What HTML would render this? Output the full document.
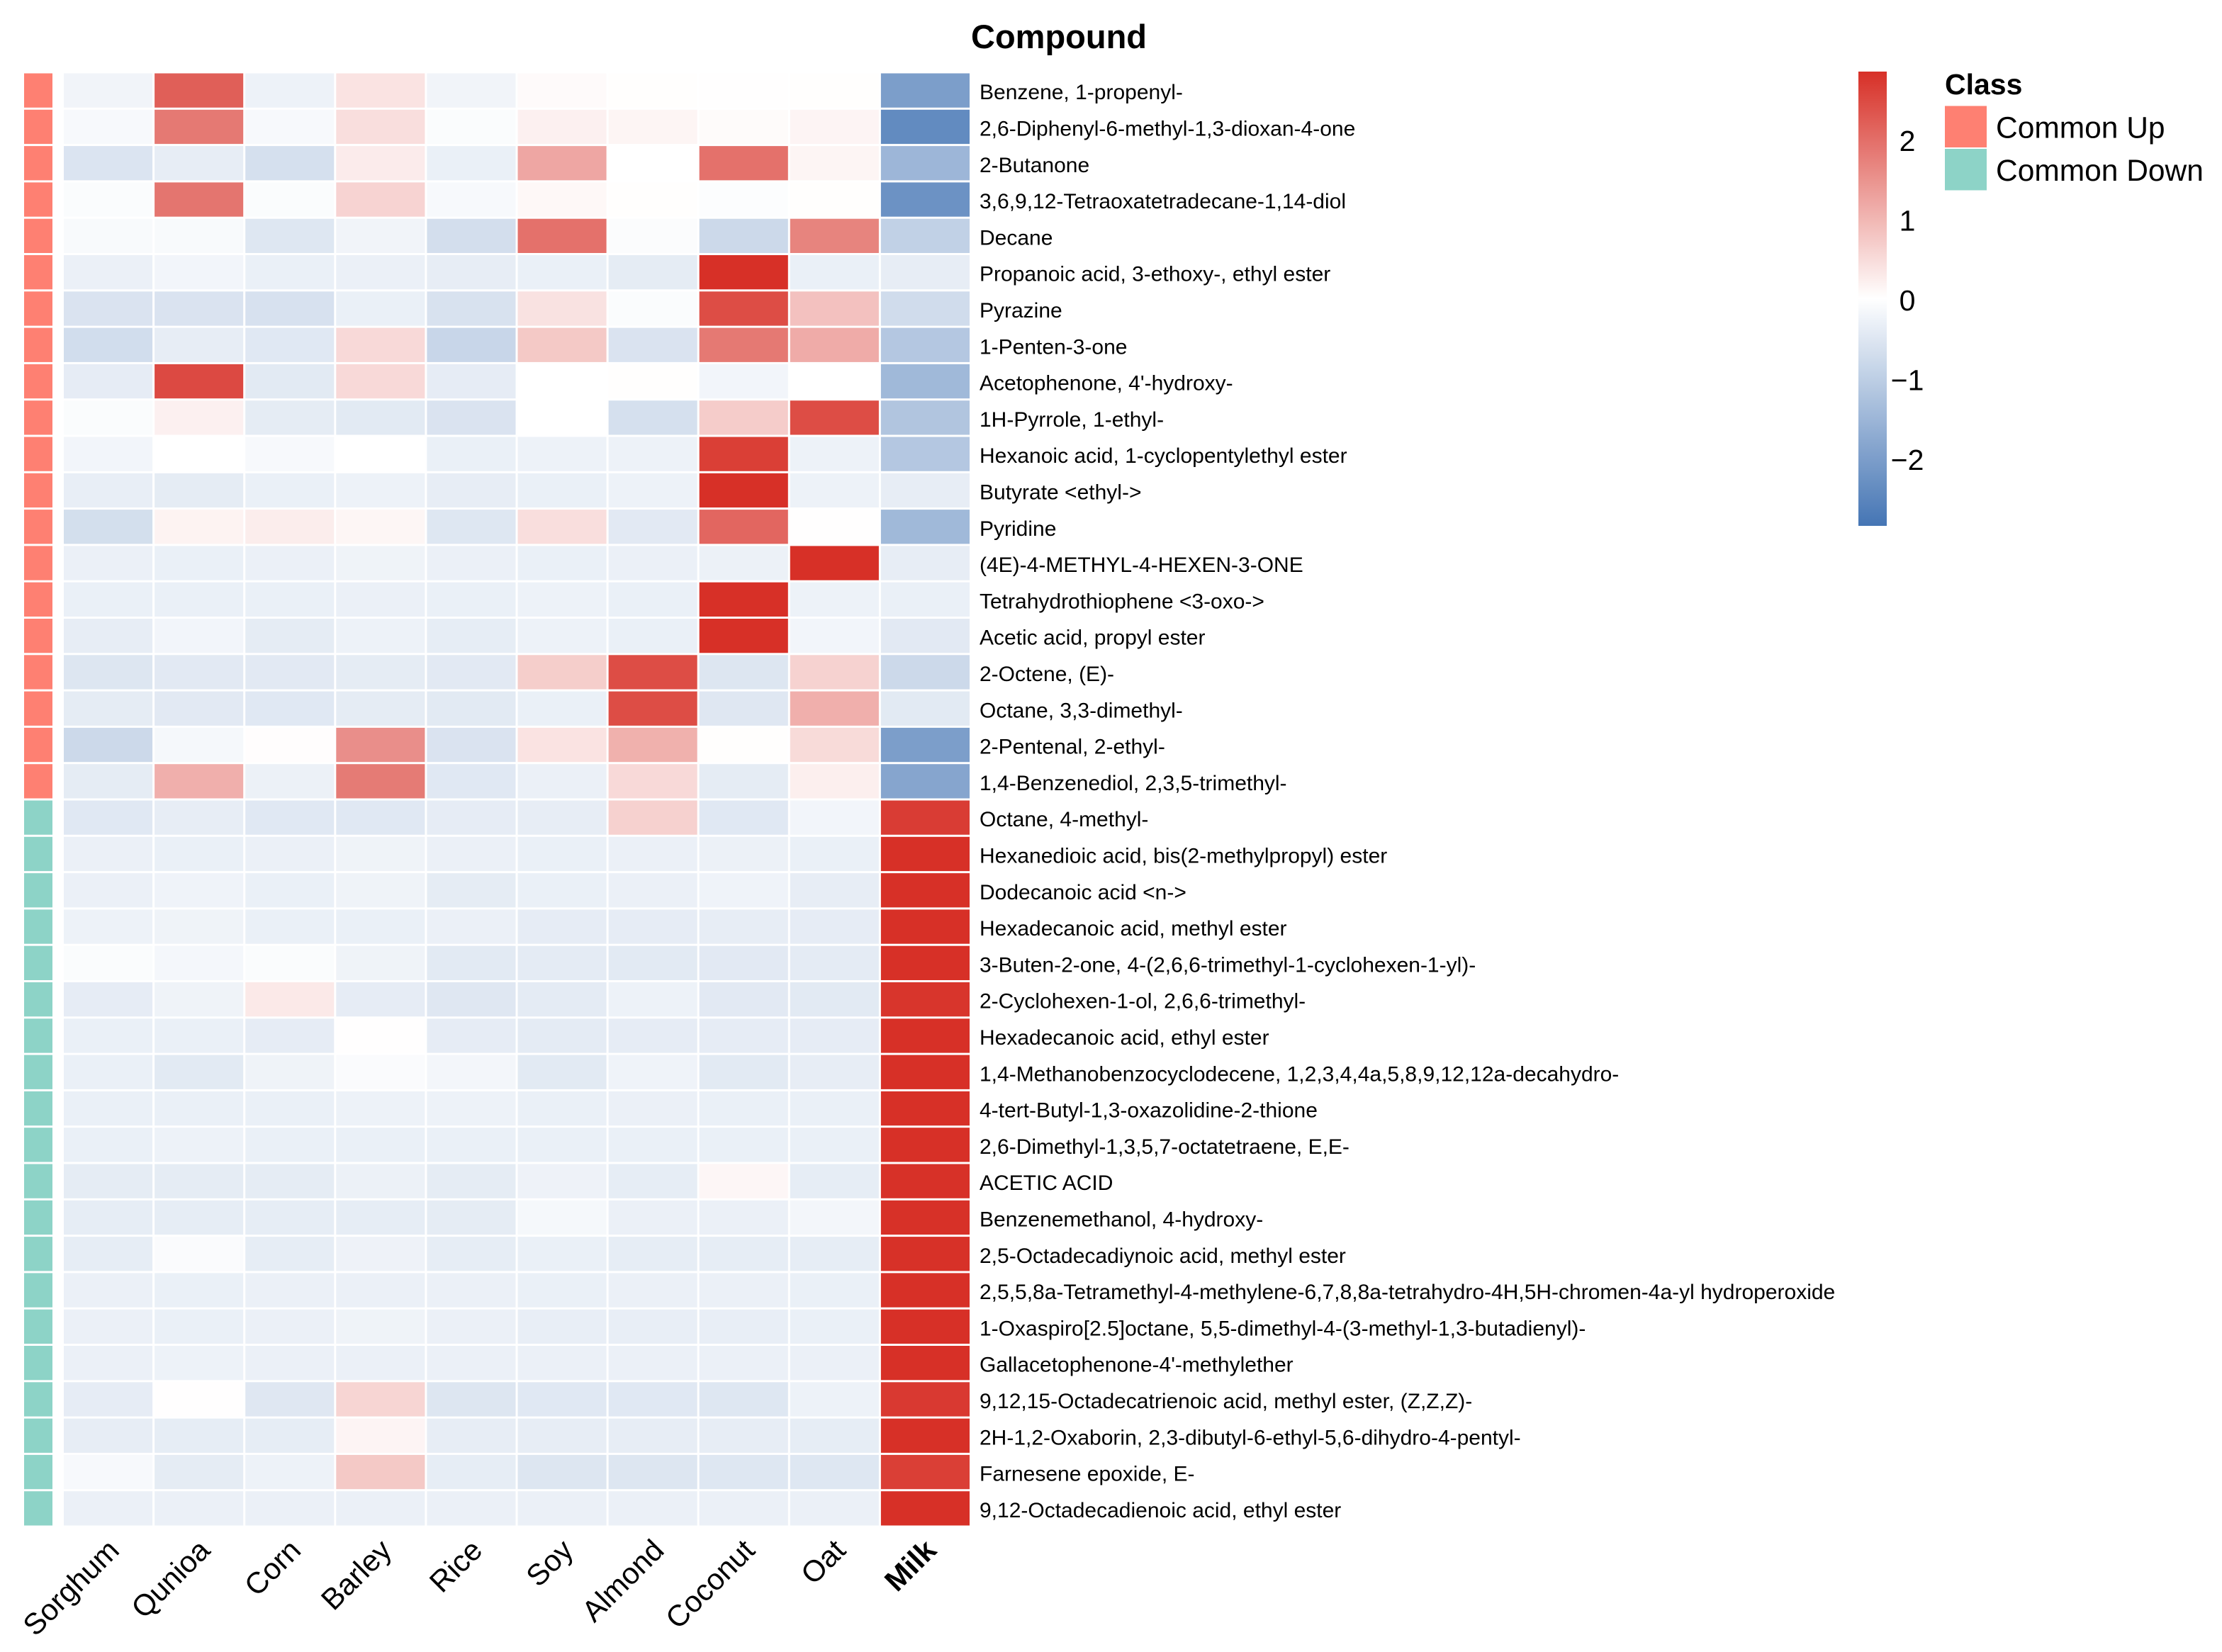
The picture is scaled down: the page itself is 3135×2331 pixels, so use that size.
<!DOCTYPE html>
<html>
<head>
<meta charset="utf-8">
<title>Compound heatmap</title>
<style>
html,body{margin:0;padding:0;background:#fff;}
svg{display:block;}
text{font-family:"Liberation Sans",Arial,sans-serif;fill:#000;}
</style>
</head>
<body>
<svg id="chart" xmlns="http://www.w3.org/2000/svg" width="3135" height="2331" viewBox="0 0 3135 2331">
<rect x="0" y="0" width="3135" height="2331" fill="#ffffff"/>
<defs><linearGradient id="cbGrad" x1="0" y1="0" x2="0" y2="1"></linearGradient></defs>
<g id="annotation"></g>
<g id="cells"></g>
<g id="rowLabels"></g>
<g id="colLabels"></g>
<text x="1494" y="68" font-size="47" font-weight="700" text-anchor="middle">Compound</text>
<g id="colorbar"></g>
<g id="legend"></g>
</svg>
<script>
const matrices = ["Sorghum","Qunioa","Corn","Barley","Rice","Soy","Almond","Coconut","Oat","Milk"];
const boldMatrices = ["Milk"];
const compounds = [
"Benzene, 1-propenyl-",
"2,6-Diphenyl-6-methyl-1,3-dioxan-4-one",
"2-Butanone",
"3,6,9,12-Tetraoxatetradecane-1,14-diol",
"Decane",
"Propanoic acid, 3-ethoxy-, ethyl ester",
"Pyrazine",
"1-Penten-3-one",
"Acetophenone, 4'-hydroxy-",
"1H-Pyrrole, 1-ethyl-",
"Hexanoic acid, 1-cyclopentylethyl ester",
"Butyrate <ethyl->",
"Pyridine",
"(4E)-4-METHYL-4-HEXEN-3-ONE",
"Tetrahydrothiophene <3-oxo->",
"Acetic acid, propyl ester",
"2-Octene, (E)-",
"Octane, 3,3-dimethyl-",
"2-Pentenal, 2-ethyl-",
"1,4-Benzenediol, 2,3,5-trimethyl-",
"Octane, 4-methyl-",
"Hexanedioic acid, bis(2-methylpropyl) ester",
"Dodecanoic acid <n->",
"Hexadecanoic acid, methyl ester",
"3-Buten-2-one, 4-(2,6,6-trimethyl-1-cyclohexen-1-yl)-",
"2-Cyclohexen-1-ol, 2,6,6-trimethyl-",
"Hexadecanoic acid, ethyl ester",
"1,4-Methanobenzocyclodecene, 1,2,3,4,4a,5,8,9,12,12a-decahydro-",
"4-tert-Butyl-1,3-oxazolidine-2-thione",
"2,6-Dimethyl-1,3,5,7-octatetraene, E,E-",
"ACETIC ACID",
"Benzenemethanol, 4-hydroxy-",
"2,5-Octadecadiynoic acid, methyl ester",
"2,5,5,8a-Tetramethyl-4-methylene-6,7,8,8a-tetrahydro-4H,5H-chromen-4a-yl hydroperoxide",
"1-Oxaspiro[2.5]octane, 5,5-dimethyl-4-(3-methyl-1,3-butadienyl)-",
"Gallacetophenone-4'-methylether",
"9,12,15-Octadecatrienoic acid, methyl ester, (Z,Z,Z)-",
"2H-1,2-Oxaborin, 2,3-dibutyl-6-ethyl-5,6-dihydro-4-pentyl-",
"Farnesene epoxide, E-",
"9,12-Octadecadienoic acid, ethyl ester"
];
const classNames = ["Common Up","Common Down"];
const classColors = ["#FE8072","#8DD3C7"];
const rowClass = [0,0,0,0,0,0,0,0,0,0,0,0,0,0,0,0,0,0,0,0,1,1,1,1,1,1,1,1,1,1,1,1,1,1,1,1,1,1,1,1];
const values = [
[-.22,2.2,-.27,.38,-.22,.07,.02,.01,.02,-2.0],
[-.13,1.85,-.13,.45,-.07,.2,.14,.06,.15,-2.4],
[-.55,-.37,-.65,.27,-.32,1.22,0,1.95,.14,-1.5],
[-.07,1.9,-.07,.6,-.12,.1,.02,-.04,.02,-2.25],
[-.1,-.1,-.5,-.22,-.68,1.95,-.06,-.78,1.7,-.95],
[-.3,-.2,-.32,-.3,-.37,-.32,-.4,2.86,-.32,-.37],
[-.57,-.57,-.62,-.32,-.6,.4,-.07,2.45,.85,-.72],
[-.7,-.37,-.47,.52,-.85,.75,-.57,1.85,1.15,-1.15],
[-.39,2.5,-.44,.52,-.39,0,.02,-.2,0,-1.45],
[-.07,.2,-.4,-.44,-.57,0,-.64,.7,2.45,-1.2],
[-.2,0,-.13,0,-.32,-.27,-.27,2.65,-.27,-1.15],
[-.35,-.4,-.32,-.27,-.37,-.32,-.27,2.86,-.27,-.37],
[-.67,.17,.25,.13,-.5,.45,-.45,2.1,.01,-1.45],
[-.3,-.32,-.3,-.25,-.3,-.32,-.3,-.29,2.85,-.37],
[-.32,-.32,-.32,-.3,-.32,-.27,-.32,2.86,-.27,-.32],
[-.37,-.2,-.4,-.27,-.38,-.27,-.32,2.86,-.2,-.45],
[-.52,-.45,-.45,-.4,-.45,.68,2.45,-.52,.62,-.78],
[-.4,-.45,-.47,-.4,-.44,-.32,2.45,-.49,1.1,-.44],
[-.78,-.15,.03,1.55,-.57,.38,1.08,.02,.5,-2.0],
[-.4,1.1,-.29,1.82,-.47,-.3,.52,-.4,.22,-1.85],
[-.47,-.37,-.47,-.47,-.39,-.37,.63,-.47,-.2,2.68],
[-.3,-.32,-.3,-.25,-.3,-.32,-.3,-.29,-.32,2.86],
[-.3,-.24,-.32,-.25,-.4,-.32,-.3,-.24,-.37,2.86],
[-.27,-.25,-.32,-.32,-.3,-.39,-.39,-.37,-.39,2.86],
[-.07,-.17,-.07,-.25,-.44,-.42,-.44,-.45,-.42,2.86],
[-.39,-.25,.3,-.39,-.49,-.42,-.27,-.45,-.44,2.78],
[-.32,-.32,-.39,.01,-.39,-.42,-.39,-.39,-.39,2.86],
[-.32,-.44,-.25,-.08,-.18,-.44,-.24,-.44,-.37,2.86],
[-.32,-.32,-.32,-.27,-.27,-.32,-.3,-.32,-.32,2.86],
[-.32,-.27,-.32,-.32,-.32,-.32,-.32,-.32,-.32,2.86],
[-.4,-.4,-.4,-.29,-.4,-.26,-.38,.12,-.38,2.84],
[-.38,-.38,-.38,-.38,-.4,-.15,-.3,-.3,-.18,2.84],
[-.38,-.08,-.38,-.26,-.38,-.32,-.38,-.38,-.38,2.84],
[-.3,-.32,-.3,-.3,-.3,-.32,-.3,-.3,-.32,2.86],
[-.3,-.32,-.3,-.25,-.3,-.36,-.36,-.36,-.32,2.86],
[-.3,-.27,-.3,-.3,-.3,-.3,-.3,-.3,-.3,2.86],
[-.39,.01,-.49,.58,-.52,-.47,-.47,-.5,-.27,2.72],
[-.37,-.38,-.38,.15,-.37,-.37,-.37,-.37,-.38,2.86],
[-.13,-.4,-.27,.75,-.38,-.52,-.52,-.5,-.5,2.65],
[-.3,-.3,-.3,-.3,-.3,-.3,-.3,-.3,-.3,2.86]
];
const colorTicks = [2,1,0,-1,-2];
const colorDomain = [-2.85,2.85];

const NS = "http://www.w3.org/2000/svg";
const plotLeft = 90, plotRight = 1371, plotTop = 103.5, plotBottom = 2155.5, cellGap = 3;
const cbX = 2622, cbW = 40, cbTop = 101, cbBottom = 742;

function xPos(i){ return plotLeft + i * (plotRight - plotLeft) / matrices.length; }
function yPos(i){ return plotTop + i * (plotBottom - plotTop) / compounds.length; }
function cbY(v){ return cbTop + (colorDomain[1] - v) / (colorDomain[1] - colorDomain[0]) * (cbBottom - cbTop); }
function mix(a, b, t){ return Math.round(a + (b - a) * t); }
function colorOf(v){
  const hi = [215,48,39], lo = [69,117,180];
  const t = Math.min(1, Math.abs(v) / colorDomain[1]);
  const c = v >= 0 ? hi : lo;
  return "rgb(" + mix(255,c[0],t) + "," + mix(255,c[1],t) + "," + mix(255,c[2],t) + ")";
}
function make(tag, parent, attrs, txt){
  const el = document.createElementNS(NS, tag);
  for (const k in attrs) el.setAttribute(k, attrs[k]);
  if (txt !== undefined) el.textContent = txt;
  parent.appendChild(el);
  return el;
}

const cellsG = document.getElementById("cells");
const annG = document.getElementById("annotation");
const rowG = document.getElementById("rowLabels");
const colG = document.getElementById("colLabels");
const cbG = document.getElementById("colorbar");
const legG = document.getElementById("legend");
const cellW = (plotRight - plotLeft) / matrices.length - cellGap;
const cellH = (plotBottom - plotTop) / compounds.length - cellGap;

compounds.forEach(function(name, r){
  const a = make("rect", annG, {x:34, y:yPos(r), width:40, height:cellH, fill:classColors[rowClass[r]]});
  
  
  matrices.forEach(function(m, c){
    const cell = make("rect", cellsG, {x:xPos(c), y:yPos(r), width:cellW, height:cellH, fill:colorOf(values[r][c])});
    
    
  });
  const t = make("text", rowG, {x:1382, y:yPos(r) + cellH / 2 + 12.5, "font-size":30}, name);
  
  
});

matrices.forEach(function(m, c){
  const px = xPos(c) + cellW / 2 + 18, py = 2190;
  const attrs = {x:px, y:py, "font-size":42, "text-anchor":"end", transform:"rotate(-45 " + px + " " + py + ")"};
  if (boldMatrices.indexOf(m) >= 0) attrs["font-weight"] = "700";
  const t = make("text", colG, attrs, m);
  
  
});

const grad = document.getElementById("cbGrad");
for (let s = 0; s <= 40; s++) {
  const v = colorDomain[1] - s / 40 * (colorDomain[1] - colorDomain[0]);
  make("stop", grad, {offset:(s / 40), "stop-color":colorOf(v)});
}
const bar = make("rect", cbG, {x:cbX, y:cbTop, width:cbW, height:cbBottom - cbTop, fill:"url(#cbGrad)"});


colorTicks.forEach(function(v){
  const label = (v < 0 ? "\u2212" + Math.abs(v) : String(v));
  const t = make("text", cbG, {x:2691, y:cbY(v) + 16.5, "font-size":41, "text-anchor":"middle"}, label);
  
  
});

const legTitle = make("text", legG, {x:2744, y:133, "font-size":41, "font-weight":700}, "Class");


classNames.forEach(function(name, i){
  const y0 = 149.5 + i * 60.5;
  const s = make("rect", legG, {x:2744, y:y0, width:59, height:58.5, fill:classColors[i]});
  
  
  const t = make("text", legG, {x:2816, y:y0 + 45, "font-size":42.5}, name);
  
  
});
</script>
</body>
</html>
